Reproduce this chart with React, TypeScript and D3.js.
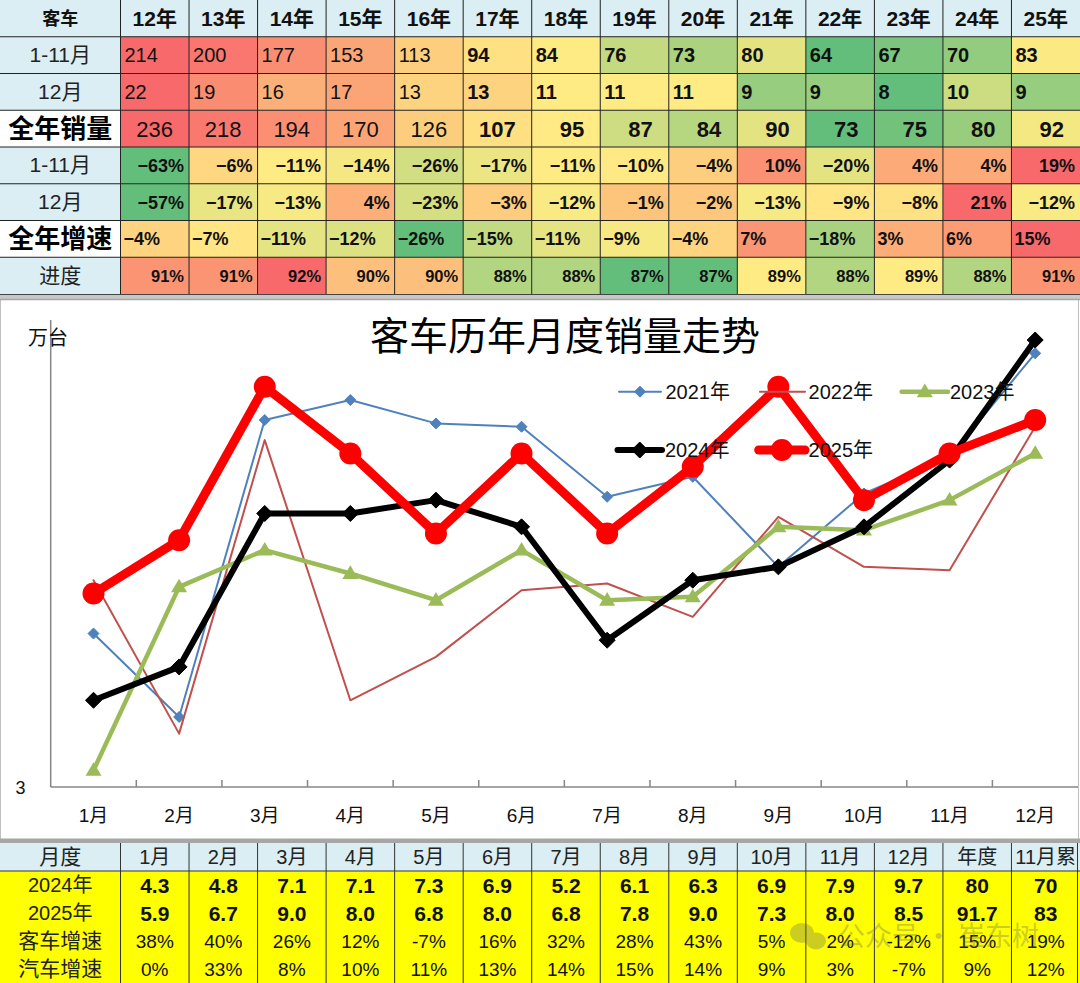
import React from 'react';
import * as d3 from 'd3';

// ---------- Top table data ----------
const yearCols = ['12年', '13年', '14年', '15年', '16年', '17年', '18年', '19年', '20年', '21年', '22年', '23年', '24年', '25年'];
const sales111 = [214, 200, 177, 153, 113, 94, 84, 76, 73, 80, 64, 67, 70, 83];
const salesDec = [22, 19, 16, 17, 13, 13, 11, 11, 11, 9, 9, 8, 10, 9];
const salesYear = [236, 218, 194, 170, 126, 107, 95, 87, 84, 90, 73, 75, 80, 92];
const growth111 = [-63, -6, -11, -14, -26, -17, -11, -10, -4, 10, -20, 4, 4, 19];
const growthDec = [-57, -17, -13, 4, -23, -3, -12, -1, -2, -13, -9, -8, 21, -12];
const growthYear = [-4, -7, -11, -12, -26, -15, -11, -9, -4, 7, -18, 3, 6, 15];
const progress = [91, 91, 92, 90, 90, 88, 88, 87, 87, 89, 88, 89, 88, 91];
const topRowLabels = ['1-11月', '12月', '全年销量', '1-11月', '12月', '全年增速', '进度'];

// ---------- Chart data (万台) ----------
const months = ['1月', '2月', '3月', '4月', '5月', '6月', '7月', '8月', '9月', '10月', '11月', '12月'];
const s2021 = [5.3, 4.05, 8.5, 8.8, 8.45, 8.4, 7.35, 7.65, 6.3, 7.4, 7.95, 9.5];
const s2022 = [6.1, 3.8, 8.2, 4.3, 4.95, 5.95, 6.05, 5.55, 7.05, 6.3, 6.25, 8.4];
const s2023 = [3.25, 6.0, 6.55, 6.2, 5.8, 6.55, 5.8, 5.85, 6.9, 6.85, 7.3, 8.0];
const s2024 = [4.3, 4.8, 7.1, 7.1, 7.3, 6.9, 5.2, 6.1, 6.3, 6.9, 7.9, 9.7];
const s2025 = [5.9, 6.7, 9.0, 8.0, 6.8, 8.0, 6.8, 7.8, 9.0, 7.3, 8.0, 8.5];
const yDomain = [3, 10];

// ---------- Bottom table data ----------
const bottomExtraCols = ['年度', '11月累'];
const totals2024 = ['80', '70'];
const totals2025 = ['91.7', '83'];
const busGrowth = [38, 40, 26, 12, -7, 16, 32, 28, 43, 5, 2, -12, 15, 19];
const autoGrowth = [0, 33, 8, 10, 11, 13, 14, 15, 14, 9, 3, -7, 9, 12];

const W = 1080;
const H = 983;
const LAT = "'Liberation Sans','Noto Sans CJK SC',sans-serif";
const NARROW = "'Liberation Sans Narrow','Liberation Sans','Noto Sans CJK SC',sans-serif";
const CJK = "'Noto Sans CJK SC','Liberation Sans',sans-serif";
const LIGHT_BLUE = '#DAEEF3';

function rowColor(vals: number[]) {
  const sorted = [...vals].sort(d3.ascending);
  const mid = d3.quantile(sorted, 0.5) as number;
  return d3
    .scaleLinear<string>()
    .domain([d3.min(vals) as number, mid, d3.max(vals) as number])
    .range(['#63BE7B', '#FFEB84', '#F8696B'])
    .interpolate(d3.interpolateRgb);
}

const pctTop = (v: number) => (v < 0 ? '\u2212' + Math.abs(v) : String(v)) + '%';

function TopTable() {
  const firstW = 120.5;
  const rowH = 36.75;
  const xs = d3.scaleBand().domain(yearCols).range([firstW, W]);
  const cw = xs.bandwidth();
  const rows = [sales111, salesDec, salesYear, growth111, growthDec, growthYear, progress];
  const styles = [
    { align: 'start', pad: 4, size: 20, boldFrom: 5, pct: false },
    { align: 'start', pad: 4, size: 20, boldFrom: 5, pct: false },
    { align: 'end', pad: 16, size: 22, boldFrom: 5, pct: false },
    { align: 'end', pad: 5, size: 18, boldFrom: 0, pct: true },
    { align: 'end', pad: 5, size: 18, boldFrom: 0, pct: true },
    { align: 'start', pad: 3, size: 18, boldFrom: 0, pct: true },
    { align: 'end', pad: 5, size: 16.5, boldFrom: 0, pct: true },
  ];
  const els: React.ReactNode[] = [];
  // header
  els.push(<rect key="hbg" x={0} y={0} width={W} height={rowH} fill={LIGHT_BLUE} />);
  els.push(
    <text key="hk" x={firstW / 2} y={rowH / 2 + 6.5} textAnchor="middle" fontSize={18} fontWeight="bold" fontFamily={CJK} fill="#111">
      客车
    </text>
  );
  yearCols.forEach((c) => {
    els.push(
      <text key={'h' + c} x={(xs(c) as number) + cw / 2} y={rowH / 2 + 7.5} textAnchor="middle" fontSize={21} fontWeight="bold" fontFamily={LAT} fill="#111">
        {c}
      </text>
    );
  });
  rows.forEach((vals, ri) => {
    const y0 = (ri + 1) * rowH;
    const cy = y0 + rowH / 2;
    const color = rowColor(vals);
    const st = styles[ri];
    const special = ri === 2 || ri === 5;
    els.push(<rect key={'lb' + ri} x={0} y={y0} width={firstW} height={rowH} fill={special ? '#FFFFFF' : LIGHT_BLUE} />);
    els.push(
      <text
        key={'lt' + ri}
        x={firstW / 2}
        y={cy + (special ? 9 : 7)}
        textAnchor="middle"
        fontSize={special ? 26 : 21}
        fontWeight={special ? 'bold' : 'normal'}
        fontFamily={special ? CJK : LAT}
        fill={special ? '#000' : '#222'}
      >
        {topRowLabels[ri]}
      </text>
    );
    vals.forEach((v, ci) => {
      const x0 = xs(yearCols[ci]) as number;
      els.push(<rect key={`c${ri}-${ci}`} x={x0} y={y0} width={cw} height={rowH} fill={color(v)} />);
      const tx = st.align === 'start' ? x0 + st.pad : x0 + cw - st.pad;
      els.push(
        <text
          key={`t${ri}-${ci}`}
          x={tx}
          y={cy + st.size * 0.36}
          textAnchor={st.align}
          fontSize={st.size}
          fontWeight={ci >= st.boldFrom ? 'bold' : 'normal'}
          fontFamily={LAT}
          fill="#111"
        >
          {st.pct ? pctTop(v) : String(v)}
        </text>
      );
    });
  });
  // grid
  for (let r = 1; r <= 7; r++) {
    els.push(<line key={'gh' + r} x1={0} x2={W} y1={r * rowH} y2={r * rowH} stroke="#222" strokeWidth={1} />);
  }
  els.push(<line key="gv0" x1={firstW} x2={firstW} y1={0} y2={8 * rowH} stroke="#222" strokeWidth={1} />);
  yearCols.forEach((c, i) => {
    if (i === 0) return;
    const x = xs(c) as number;
    els.push(<line key={'gv' + c} x1={x} x2={x} y1={0} y2={8 * rowH} stroke="#222" strokeWidth={1} />);
  });
  els.push(<rect key="tb" x={0} y={8 * rowH} width={W} height={5} fill="#C8C8C8" />);
  els.push(<line key="tbl" x1={0} x2={W} y1={8 * rowH + 0.5} y2={8 * rowH + 0.5} stroke="#444" strokeWidth={1} />);
  return <g>{els}</g>;
}

function diamond(r: number) {
  return `M0,${-r}L${r},0L0,${r}L${-r},0Z`;
}
function triangle(w: number, h: number) {
  return `M0,${-h * 0.6}L${w / 2},${h * 0.4}L${-w / 2},${h * 0.4}Z`;
}

const seriesStyle = [
  { name: '2021年', data: s2021, color: '#4F81BD', width: 2, marker: 'diamond', size: 5.5 },
  { name: '2022年', data: s2022, color: '#C0504D', width: 2, marker: 'none', size: 0 },
  { name: '2023年', data: s2023, color: '#9BBB59', width: 4.5, marker: 'triangle', size: 16 },
  { name: '2024年', data: s2024, color: '#000000', width: 6, marker: 'diamond', size: 8 },
  { name: '2025年', data: s2025, color: '#FF0000', width: 9, marker: 'circle', size: 11 },
];

function Marker({ type, size, color, x, y }: { type: string; size: number; color: string; x: number; y: number }) {
  if (type === 'diamond') return <path d={diamond(size)} transform={`translate(${x},${y})`} fill={color} stroke={color} strokeWidth={1} />;
  if (type === 'triangle') return <path d={triangle(size, size * 0.85)} transform={`translate(${x},${y})`} fill={color} />;
  if (type === 'circle') return <circle cx={x} cy={y} r={size} fill={color} />;
  return null;
}

function Chart() {
  const left = 50.7;
  const right = 1078;
  const bottom = 787;
  const top = 320;
  const x = d3.scaleBand().domain(months).range([left, right]);
  const bw = x.bandwidth();
  const y = d3.scaleLinear().domain(yDomain).range([bottom, top]);
  const cx = (i: number) => (x(months[i]) as number) + bw / 2;
  const line = d3
    .line<number>()
    .x((_, i) => cx(i))
    .y((d) => y(d));

  const legendPos = [
    { x1: 619, x2: 661, tx: 665.5, y: 391.7 },
    { x1: 760, x2: 805, tx: 808.6, y: 391.7 },
    { x1: 901.6, x2: 948, tx: 950, y: 391.7 },
    { x1: 617.5, x2: 662, tx: 665, y: 450 },
    { x1: 758.7, x2: 805, tx: 808.6, y: 450 },
  ];

  return (
    <g>
      <rect x={0.5} y={299.5} width={1078} height={540} fill="#FFFFFF" stroke="#BFBFBF" strokeWidth={1} />
      <line x1={0} x2={W} y1={299.5} y2={299.5} stroke="#A6A6A6" strokeWidth={1.5} />
      {/* axes */}
      <line x1={left} x2={left} y1={top} y2={bottom} stroke="#868686" strokeWidth={1.5} />
      <line x1={left} x2={right} y1={bottom} y2={bottom} stroke="#868686" strokeWidth={1.5} />
      {months.slice(1).map((m) => (
        <line key={'tk' + m} x1={x(m) as number} x2={x(m) as number} y1={bottom} y2={bottom - 7} stroke="#868686" strokeWidth={1.5} />
      ))}
      {months.map((m) => (
        <text key={'xl' + m} x={(x(m) as number) + bw / 2} y={822} textAnchor="middle" fontSize={19} fontFamily={LAT} fill="#111">
          {m}
        </text>
      ))}
      <text x={20.5} y={794} textAnchor="middle" fontSize={18} fontFamily={LAT} fill="#111">
        {String(yDomain[0])}
      </text>
      <text x={28} y={345} fontSize={20} fontFamily={CJK} fill="#111">
        万台
      </text>
      <text x={565} y={350} textAnchor="middle" fontSize={39} fontFamily={CJK} fill="#000">
        客车历年月度销量走势
      </text>
      {/* series */}
      {seriesStyle.map((s) => (
        <g key={s.name}>
          <path d={line(s.data) as string} fill="none" stroke={s.color} strokeWidth={s.width} strokeLinejoin="round" strokeLinecap="round" />
          {s.data.map((v, i) => (
            <Marker key={i} type={s.marker} size={s.size} color={s.color} x={cx(i)} y={y(v)} />
          ))}
        </g>
      ))}
      {/* legend */}
      {seriesStyle.map((s, i) => {
        const p = legendPos[i];
        return (
          <g key={'lg' + s.name}>
            <line x1={p.x1} x2={p.x2} y1={p.y} y2={p.y} stroke={s.color} strokeWidth={s.width} strokeLinecap="round" />
            <Marker type={s.marker} size={s.size} color={s.color} x={(p.x1 + p.x2) / 2} y={p.y} />
            <text x={p.tx} y={p.y + 7} fontSize={20} fontFamily={LAT} fill="#111">
              {s.name}
            </text>
          </g>
        );
      })}
    </g>
  );
}

function BottomTable() {
  const firstW = 120.5;
  const y0 = 843;
  const rowH = 28;
  const cols = [...months, ...bottomExtraCols];
  const xs = d3.scaleBand().domain(cols).range([firstW, W]);
  const cw = xs.bandwidth();
  const fmt1 = (v: number) => v.toFixed(1);
  const r2024 = [...s2024.map(fmt1), ...totals2024];
  const r2025 = [...s2025.map(fmt1), ...totals2025];
  const pct = (v: number) => `${v}%`;
  const rows: { label: string; vals: string[]; bold: boolean; size: number; font: string }[] = [
    { label: '2024年', vals: r2024, bold: true, size: 21, font: LAT },
    { label: '2025年', vals: r2025, bold: true, size: 21, font: LAT },
    { label: '客车增速', vals: busGrowth.map(pct), bold: false, size: 19, font: NARROW },
    { label: '汽车增速', vals: autoGrowth.map(pct), bold: false, size: 19, font: NARROW },
  ];
  const els: React.ReactNode[] = [];
  els.push(<rect key="gap" x={0} y={838.5} width={W} height={4.5} fill="#A6A6A6" />);
  els.push(<rect key="hb" x={0} y={y0} width={W} height={rowH} fill={LIGHT_BLUE} />);
  els.push(<rect key="yb" x={0} y={y0 + rowH} width={W} height={rowH * 4} fill="#FFFF00" />);
  els.push(
    <text key="hl" x={firstW / 2} y={y0 + rowH / 2 + 7} textAnchor="middle" fontSize={21} fontFamily={CJK} fill="#222">
      月度
    </text>
  );
  cols.forEach((c) => {
    els.push(
      <text key={'hc' + c} x={(xs(c) as number) + cw / 2} y={y0 + rowH / 2 + 7} textAnchor="middle" fontSize={20} fontFamily={LAT} fill="#222">
        {c}
      </text>
    );
  });
  rows.forEach((r, ri) => {
    const cy = y0 + (ri + 1) * rowH + rowH / 2;
    els.push(
      <text key={'rl' + ri} x={firstW / 2} y={cy + 7} textAnchor="middle" fontSize={ri < 2 ? 20 : 21} fontFamily={ri < 2 ? LAT : CJK} fill="#222">
        {r.label}
      </text>
    );
    r.vals.forEach((v, ci) => {
      els.push(
        <text
          key={`bv${ri}-${ci}`}
          x={(xs(cols[ci]) as number) + cw / 2}
          y={cy + r.size * 0.36}
          textAnchor="middle"
          fontSize={r.size}
          fontWeight={r.bold ? 'bold' : 'normal'}
          fontFamily={r.font}
          fill="#111"
        >
          {v}
        </text>
      );
    });
  });
  els.push(<line key="hline" x1={0} x2={W} y1={y0 + rowH} y2={y0 + rowH} stroke="#333" strokeWidth={1} />);
  els.push(<line key="v0" x1={firstW} x2={firstW} y1={y0} y2={H} stroke="#333" strokeWidth={1} />);
  cols.forEach((c, i) => {
    if (i === 0) return;
    const x = xs(c) as number;
    els.push(<line key={'bvl' + c} x1={x} x2={x} y1={y0} y2={H} stroke="#333" strokeWidth={1} />);
  });
  els.push(<line key="rv" x1={1077.5} x2={1077.5} y1={y0} y2={H} stroke="#333" strokeWidth={1} />);
  // watermark
  els.push(
    <g key="wm" opacity={0.32} fill="#666">
      <ellipse cx={802} cy={933} rx={12} ry={10} />
      <ellipse cx={816} cy={941} rx={10} ry={8.5} />
      <text x={838} y={946} fontSize={27} fontFamily={CJK}>
        公众号 · 崔东树
      </text>
    </g>
  );
  return <g>{els}</g>;
}

export default function App() {
  return (
    <svg
      width={W}
      height={H}
      viewBox={`0 0 ${W} ${H}`}
      style={{ position: 'absolute', left: 0, top: 0, background: '#FFFFFF' }}
      xmlns="http://www.w3.org/2000/svg"
    >
      <rect x={0} y={0} width={W} height={H} fill="#FFFFFF" />
      <TopTable />
      <Chart />
      <BottomTable />
    </svg>
  );
}
